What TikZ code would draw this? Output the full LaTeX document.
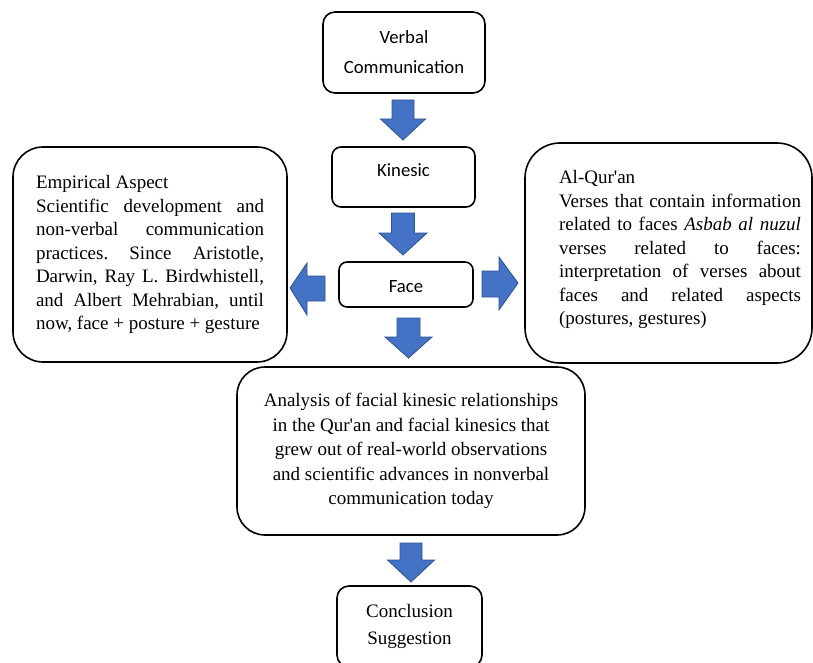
\documentclass[tikz,border=0pt]{standalone}
\usepackage{fontspec}
\setmainfont{Liberation Serif}
\newfontfamily\calibri{Carlito}
\newfontfamily\plainserif[Ligatures=ResetAll]{Liberation Serif}
\newcommand\sq{{\plainserif'}}
\definecolor{arrowblue}{HTML}{4472C4}
\definecolor{arrowedge}{HTML}{2F528F}
\newcommand\blockdown[6]{% cx, top, headtop, tip, shafthalf, headhalf
  \filldraw[barrow] (#1-#5,#2) -- (#1+#5,#2) -- (#1+#5,#3) -- (#1+#6,#3) -- (#1,#4) -- (#1-#6,#3) -- (#1-#5,#3) -- cycle;}
\frenchspacing
\begin{document}
\begin{tikzpicture}[x=1pt,y=-1pt,
  box/.style={draw=black, line width=1.6pt, rounded corners=#1, inner sep=0pt},
  box/.default=10pt,
  serif/.style={font=\fontsize{19}{23.5}\selectfont},
  sans/.style={font=\calibri\fontsize{18.7}{30}\selectfont},
  barrow/.style={fill=arrowblue, draw=arrowedge, line width=0.8pt, line join=miter}]
\useasboundingbox (0,0) rectangle (813,663);
\clip (0,0) rectangle (813,663);

% boxes
\node[box=12pt, sans, minimum width=162, minimum height=81, align=center] (verbal) at (404,52.5) {Verbal\\Communication};
\node[box=9pt, sans, minimum width=143, minimum height=60, text height=13, text depth=13] (kin) at (403.5,177) {Kinesic};
\node[box=8pt, sans, minimum width=134, minimum height=45, text height=15, text depth=0] (face) at (406,284.5) {Face};

\node[box=30pt, serif, minimum width=274, minimum height=215, text width=228, align=justify] (emp) at (150,254.5)
 {\hyphenpenalty=10000 \frenchspacing Empirical Aspect\\
 Scientific development and\linebreak
 non-verbal communication\linebreak
 practices. Since Aristotle,\linebreak
 Darwin, Ray L. Birdwhistell,\linebreak
 and Albert Mehrabian, until\linebreak
 now, face + posture + gesture};

\node[box=35pt, minimum width=287, minimum height=220] (quran) at (668.5,253) {};
\node[serif, text width=242, align=justify, inner sep=0pt] (qtext) at (680,249.5)
 {\hyphenpenalty=10000 \frenchspacing Al-Qur\sq an\\
 Verses that contain information\linebreak
 related to faces \textit{Asbab al nuzul}\linebreak
 verses related to faces:\linebreak
 interpretation of verses about\linebreak
 faces and related aspects\linebreak
 (postures, gestures)};

\node[box=28pt, font=\fontsize{19}{24.5}\selectfont, minimum width=348, minimum height=168, align=center] (anal) at (411,451)
 {Analysis of facial kinesic relationships\\
 in the Qur\sq an and facial kinesics that\\
 grew out of real-world observations\\
 and scientific advances in nonverbal\\
 communication today};

\node[box=12pt, font=\fontsize{19}{27}\selectfont, minimum width=145, minimum height=81, align=center] (concl) at (409.5,626.5)
 {Conclusion\\Suggestion};

% block arrows
\blockdown{403}{100}{119}{140}{11}{22.5}
\blockdown{403}{213}{233}{255}{11.5}{24}
\blockdown{408.5}{318}{337}{358}{11.5}{23.5}
\blockdown{411}{543}{560}{582}{11}{23.5}
\filldraw[barrow] (325,276) -- (325,301) -- (307,301) -- (307,315) -- (290,288) -- (307,263) -- (307,276) -- cycle;
\filldraw[barrow] (482,271) -- (482,297) -- (499,297) -- (499,310) -- (518,283) -- (499,257) -- (499,271) -- cycle;
\end{tikzpicture}
\end{document}
